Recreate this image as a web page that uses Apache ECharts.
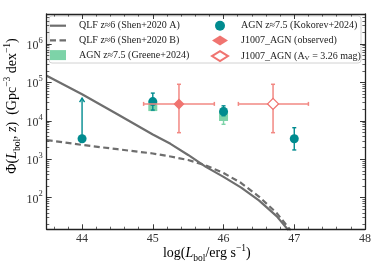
<!DOCTYPE html>
<html><head><meta charset="utf-8">
<script src="https://cdn.jsdelivr.net/npm/echarts@6/dist/echarts.min.js"></script>
<style>html,body{margin:0;padding:0;background:#fff}#c{width:374px;height:267px}</style>
</head><body><div id="c"></div>
<script>
// ---- data ----
const qlfL = [43.5, 44.0, 44.5, 45.0, 45.25, 45.5, 45.75, 46.0, 46.25, 46.5, 46.75, 46.92];
const qlfA = [148000, 49000, 14800, 4400, 2510, 1290, 630, 347, 182, 85, 33, 14];
const qlfBL = [43.5, 44.0, 44.5, 45.0, 45.25, 45.5, 45.75, 46.0, 46.25, 46.5, 46.75, 46.95];
const qlfB = [3160, 2350, 1820, 1410, 1175, 955, 690, 437, 240, 107, 40, 14];

const kokL = [44, 45, 46, 47];
const kokPhi = [3400, 31500, 17400, 3400];
const kokLo = [3400, 19000, 13500, 1740];
const kokHi = [39000, 52500, 24500, 6600];
const kokLimit = [true, false, false, false];

const greL = [45, 46];
const grePhi = [23400, 12900];
const greLo = [18600, 8100];
const greHi = [28000, 21900];

const jObsL = [45.37], jObsLlo = [44.87], jObsLhi = [45.87];
const jAvL = [46.70], jAvLlo = [46.21], jAvLhi = [47.20];
const jPhi = [27500], jPhiLo = [4900], jPhiHi = [89000];

const xMajorTicks = [44, 45, 46, 47, 48];
const yMin = 15, yMax = 6e6;

// ---- helpers ----
const xMinorTicks = [];
for (let v = 43.6; v < 48; v += 0.2) { const r = Math.round(v * 10) / 10; if (Math.abs(r - Math.round(r)) > 1e-6) xMinorTicks.push(r); }
const yMinorTicks = [];
for (let n = 1; n <= 6; n++) for (let k = 2; k <= 9; k++) { const v = k * Math.pow(10, n); if (v > yMin && v < yMax) yMinorTicks.push(Math.log10(v)); }

const SERIF = '"Liberation Serif","DejaVu Serif",serif';
const TEAL = '#008b8f', GREEN = '#7dd3a8', SALMON = '#f07470', SALMON_E = '#f28883', GRAY = '#6e6e6e', AX = '#222';

const zip = (...a) => a[0].map((_, i) => a.map(x => x[i]));

function vErr(color, lw, cap) {
  return function (params, api) {
    const x = api.value(0), lo = api.value(2), hi = api.value(3), lim = api.value(4);
    const a = api.coord([x, lo]), b = api.coord([x, hi]);
    const st = { stroke: color, lineWidth: lw, fill: null };
    const ch = [{ type: 'line', shape: { x1: a[0], y1: a[1], x2: b[0], y2: b[1] }, style: st }];
    if (lim) {
      ch.push({ type: 'polyline', shape: { points: [[b[0] - 2.5, b[1] + 4], [b[0], b[1]], [b[0] + 2.5, b[1] + 4]] }, style: st });
    } else {
      ch.push({ type: 'line', shape: { x1: a[0] - cap, y1: a[1], x2: a[0] + cap, y2: a[1] }, style: st });
      ch.push({ type: 'line', shape: { x1: b[0] - cap, y1: b[1], x2: b[0] + cap, y2: b[1] }, style: st });
    }
    return { type: 'group', children: ch };
  };
}
function xyErr(color, lw, cap) {
  return function (params, api) {
    const x = api.value(0), y = api.value(1);
    const l = api.coord([api.value(2), y]), r = api.coord([api.value(3), y]);
    const d = api.coord([x, api.value(4)]), u = api.coord([x, api.value(5)]);
    const st = { stroke: color, lineWidth: lw, fill: null };
    return { type: 'group', children: [
      { type: 'line', shape: { x1: l[0], y1: l[1], x2: r[0], y2: r[1] }, style: st },
      { type: 'line', shape: { x1: d[0], y1: d[1], x2: u[0], y2: u[1] }, style: st },
      { type: 'line', shape: { x1: l[0], y1: l[1] - cap, x2: l[0], y2: l[1] + cap }, style: st },
      { type: 'line', shape: { x1: r[0], y1: r[1] - cap, x2: r[0], y2: r[1] + cap }, style: st },
      { type: 'line', shape: { x1: d[0] - cap, y1: d[1], x2: d[0] + cap, y2: d[1] }, style: st },
      { type: 'line', shape: { x1: u[0] - cap, y1: u[1], x2: u[0] + cap, y2: u[1] }, style: st }
    ] };
  };
}

const grid = { left: 46.7, right: 7, top: 14, bottom: 37.7, containLabel: false };
const tickMajor = (vals) => ({ show: true, inside: true, length: 5, customValues: vals, lineStyle: { color: AX, width: 0.9 } });
const tickMinor = (vals) => ({ show: true, inside: true, length: 2.6, customValues: vals, lineStyle: { color: AX, width: 0.7 } });
const axLine = { show: true, lineStyle: { color: AX, width: 1.3 } };

const baseX = { type: 'value', min: 43.5, max: 48, splitLine: { show: false }, z: 10 };
const xAxis = [
  Object.assign({}, baseX, { position: 'bottom', axisLine: axLine, axisTick: tickMajor(xMajorTicks),
    axisLabel: { customValues: xMajorTicks, margin: 4, color: '#333', fontFamily: SERIF, fontSize: 12 } }),
  Object.assign({}, baseX, { position: 'top', axisLine: axLine, axisTick: tickMajor(xMajorTicks), axisLabel: { show: false } }),
  Object.assign({}, baseX, { position: 'bottom', axisLine: { show: false }, axisTick: tickMinor(xMinorTicks), axisLabel: { show: false } }),
  Object.assign({}, baseX, { position: 'top', axisLine: { show: false }, axisTick: tickMinor(xMinorTicks), axisLabel: { show: false } })
];
const yRich = { b: { fontFamily: SERIF, fontSize: 12, color: '#333', lineHeight: 16, verticalAlign: 'bottom' },
                s: { fontFamily: SERIF, fontSize: 8.5, color: '#333', lineHeight: 9, verticalAlign: 'top' } };
const yFmt = (v) => { const n = Math.log10(v); if (Math.abs(n - Math.round(n)) > 1e-6) return ''; return '{b|10}{s|' + Math.round(n) + '}'; };
const baseYLog = { type: 'log', logBase: 10, min: yMin, max: yMax, splitLine: { show: false }, minorTick: { show: false }, z: 10 };
const baseYLin = { type: 'value', min: Math.log10(yMin), max: Math.log10(yMax), splitLine: { show: false }, z: 10 };
const yAxis = [
  Object.assign({}, baseYLog, { position: 'left', axisLine: axLine, axisTick: { show: true, inside: true, length: 5, lineStyle: { color: AX, width: 0.9 } },
    axisLabel: { formatter: yFmt, margin: 4, rich: yRich, showMinLabel: false, showMaxLabel: false } }),
  Object.assign({}, baseYLog, { position: 'right', axisLine: axLine, axisTick: { show: true, inside: true, length: 5, lineStyle: { color: AX, width: 0.9 } }, axisLabel: { show: false } }),
  Object.assign({}, baseYLin, { position: 'left', axisLine: { show: false }, axisTick: tickMinor(yMinorTicks), axisLabel: { show: false } }),
  Object.assign({}, baseYLin, { position: 'right', axisLine: { show: false }, axisTick: tickMinor(yMinorTicks), axisLabel: { show: false } })
];

const N_A = 'QLF z≈6 (Shen+2020 A)', N_B = 'QLF z≈6 (Shen+2020 B)', N_G = 'AGN z≈7.5 (Greene+2024)',
      N_K = 'AGN z≈7.5 (Kokorev+2024)', N_O = 'J1007_AGN (observed)', N_V = 'J1007_AGN (A_V = 3.26 mag)';

const legTS = { fontFamily: SERIF, fontSize: 10, color: '#222', lineHeight: 10, padding: [0, 0, 0, 8],
  rich: { t: { fontFamily: SERIF, fontSize: 10, color: '#222', lineHeight: 12, verticalAlign: 'middle' },
          u: { fontFamily: SERIF, fontSize: 7, color: '#222', lineHeight: 6, verticalAlign: 'bottom' } } };
const legFmt = (name) => name === N_V ? '{t|J1007_AGN (A}{u|V}{t| = 3.26 mag)}' : name;
const legendBase = { orient: 'vertical', itemWidth: 16, itemHeight: 10, itemGap: 4.7, padding: 0, z: 20, textStyle: legTS, formatter: legFmt, selectedMode: false };
const ICON_SOLID = 'path://M0,0h16v2.2h-16z';
const ICON_DASH = 'path://M0,0h6v2.2h-6zM9.5,0h6.5v2.2h-6.5z';

const labT = { fontFamily: SERIF, fontSize: 14, color: '#222', lineHeight: 20, verticalAlign: 'middle' };
const labI = Object.assign({}, labT, { fontStyle: 'italic' });
const labSub = { fontFamily: SERIF, fontSize: 9.5, color: '#222', lineHeight: 10, verticalAlign: 'bottom' };
const labSup = { fontFamily: SERIF, fontSize: 9.5, color: '#222', lineHeight: 10, verticalAlign: 'top' };
const labRich = { t: labT, i: labI, d: labSub, p: labSup };

const option = {
  animation: false,
  grid: grid,
  xAxis: xAxis,
  yAxis: yAxis,
  legend: [
    Object.assign({}, legendBase, { left: 50, top: 20.7, data: [
      { name: N_A, icon: ICON_SOLID, itemStyle: { color: GRAY, borderWidth: 0 } },
      { name: N_B, icon: ICON_DASH, itemStyle: { color: GRAY, borderWidth: 0 } },
      { name: N_G, icon: 'rect' } ] }),
    Object.assign({}, legendBase, { left: 211, top: 20.7, data: [
      { name: N_K, icon: 'circle' }, { name: N_O, icon: 'diamond' }, { name: N_V, icon: 'diamond' } ] })
  ],
  graphic: [
    { type: 'rect', z: 1, shape: { x: 49, y: 16, width: 312, height: 47, r: 3 }, style: { fill: 'rgba(255,255,255,0.9)', stroke: '#d2d2d2', lineWidth: 1 } },
    { type: 'text', z: 30, x: 206.8, y: 253, style: { text: '{t|log(}{i|L}{d|bol}{t|/erg s}{p|−1}{t|)}', rich: labRich, align: 'center', verticalAlign: 'middle' } },
    { type: 'text', z: 30, x: 12, y: 106, rotation: Math.PI / 2, style: { text: '{t|Φ(}{i|L}{d|bol}{t|, }{i|z}{t|)  (Gpc}{p|−3}{t| dex}{p|−1}{t|)}', rich: labRich, align: 'center', verticalAlign: 'middle' } }
  ],
  series: [
    { name: N_A, type: 'line', z: 2, data: zip(qlfL, qlfA), symbol: 'none', showSymbol: false, clip: true,
      lineStyle: { color: GRAY, width: 2.2 }, itemStyle: { color: GRAY } },
    { name: N_B, type: 'line', z: 2, data: zip(qlfBL, qlfB), symbol: 'none', showSymbol: false, clip: true,
      lineStyle: { color: GRAY, width: 2.2, type: [6, 3.5] }, itemStyle: { color: GRAY } },
    { type: 'custom', z: 3, renderItem: vErr(GREEN, 1.4, 2), data: zip(greL, grePhi, greLo, greHi, [0, 0]) },
    { name: N_G, type: 'scatter', z: 4, symbol: 'rect', symbolSize: 9, data: zip(greL, grePhi), itemStyle: { color: GREEN, opacity: 1 } },
    { type: 'custom', z: 5, renderItem: vErr(TEAL, 1.4, 2), data: zip(kokL, kokPhi, kokLo, kokHi, kokLimit.map(b => b ? 1 : 0)) },
    { name: N_K, type: 'scatter', z: 6, symbol: 'circle', symbolSize: 9, data: zip(kokL, kokPhi), itemStyle: { color: TEAL, opacity: 1 } },
    { type: 'custom', z: 7, renderItem: xyErr(SALMON_E, 1.5, 2), data: zip(jObsL, jPhi, jObsLlo, jObsLhi, jPhiLo, jPhiHi) },
    { type: 'custom', z: 7, renderItem: xyErr(SALMON_E, 1.5, 2), data: zip(jAvL, jPhi, jAvLlo, jAvLhi, jPhiLo, jPhiHi) },
    { name: N_O, type: 'scatter', z: 8, symbol: 'diamond', symbolSize: 11, data: zip(jObsL, jPhi), itemStyle: { color: SALMON, opacity: 1 } },
    { name: N_V, type: 'scatter', z: 8, symbol: 'diamond', symbolSize: 11, data: zip(jAvL, jPhi), itemStyle: { color: '#fff', borderColor: SALMON, borderWidth: 1.3, opacity: 1 } }
  ]
};
const chart = echarts.init(document.getElementById('c'), null, { renderer: 'canvas' });
chart.setOption(option);
</script></body></html>
